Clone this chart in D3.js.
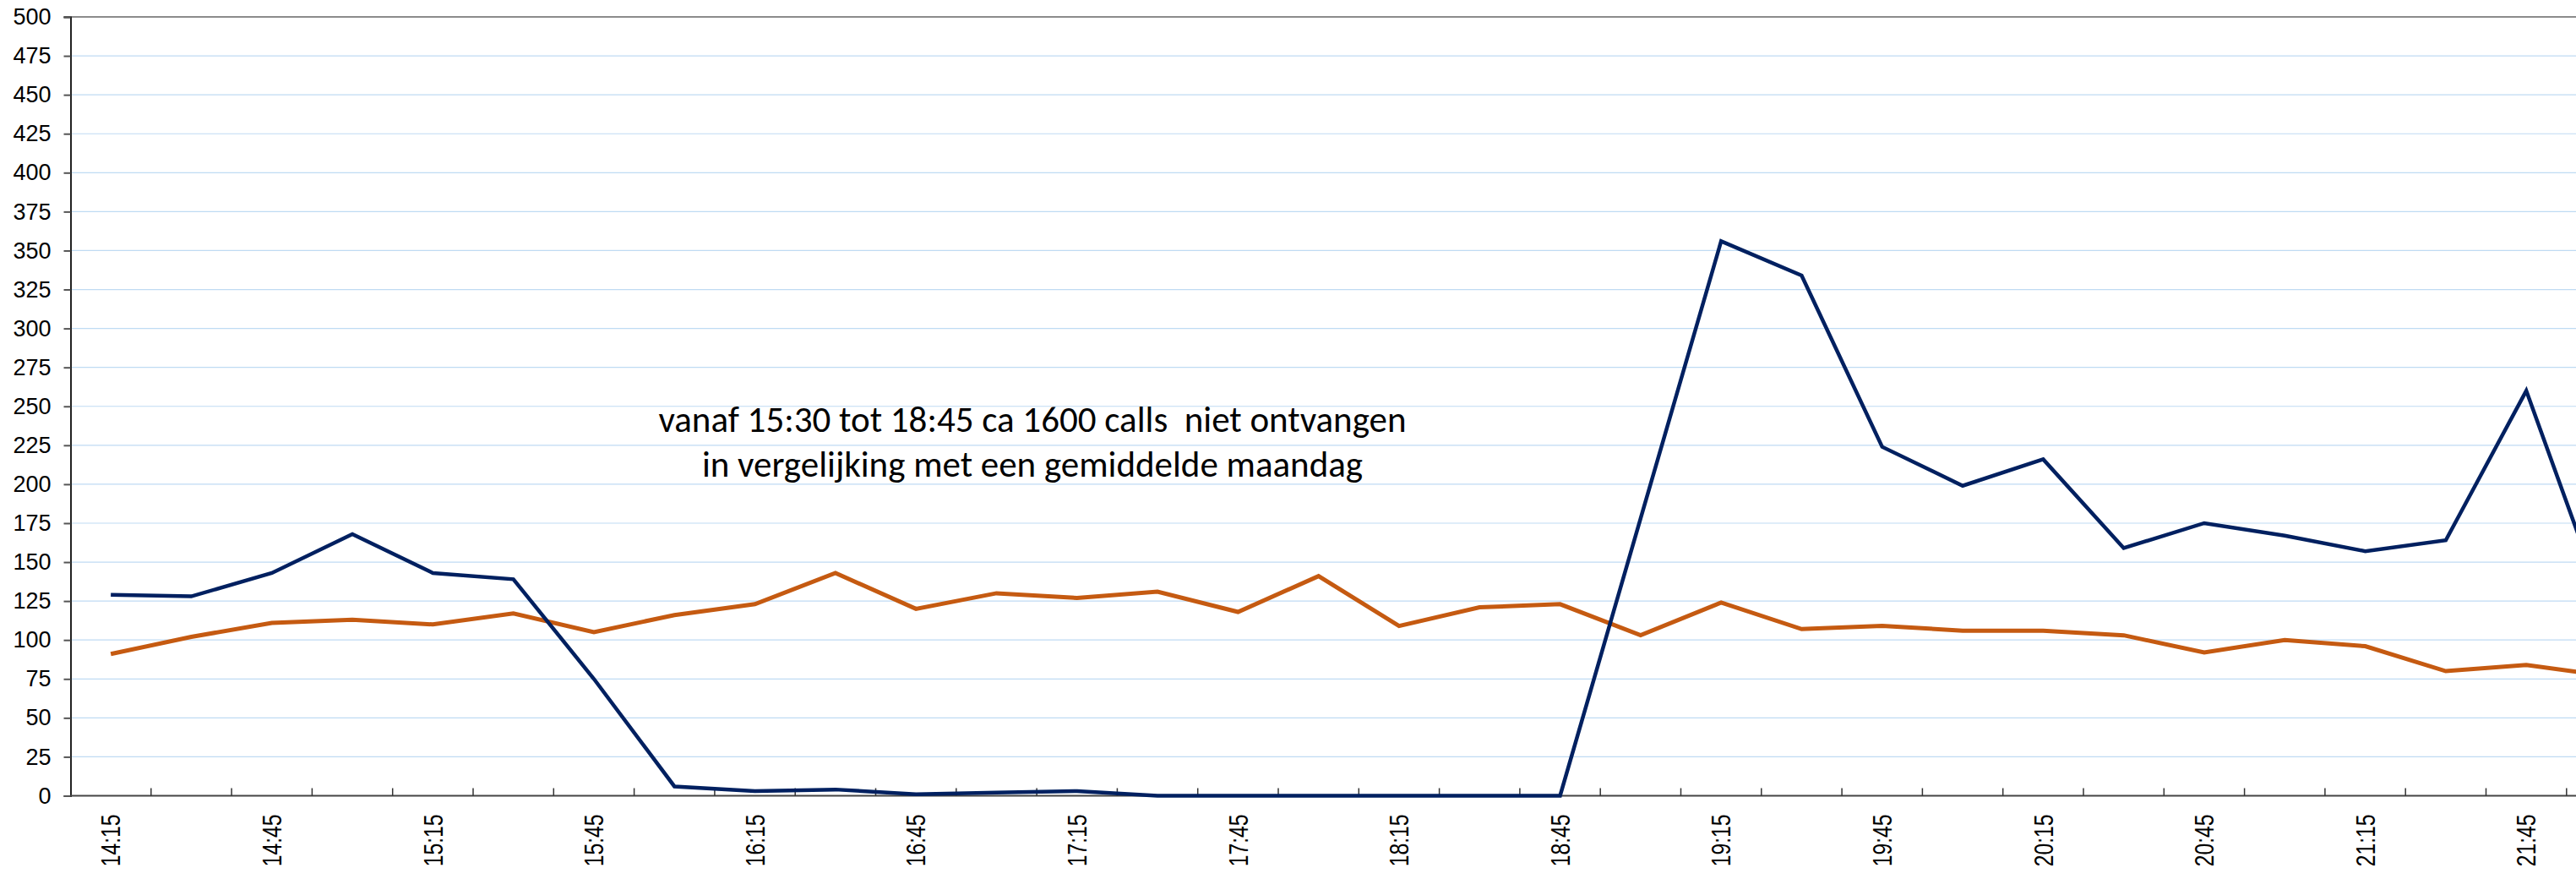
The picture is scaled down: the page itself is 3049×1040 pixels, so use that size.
<!DOCTYPE html>
<meta charset="utf-8">
<style>
	body { margin: 0; background: #fff; }
	svg { display: block; }
</style>
<body>
	<div id="chart"></div>
</body>
<script src="https://cdn.jsdelivr.net/npm/d3@7"></script>
<script>
	// time slots, every 15 minutes
	const times = ["14:15", "14:30", "14:45", "15:00", "15:15", "15:30", "15:45", "16:00",
		"16:15", "16:30", "16:45", "17:00", "17:15", "17:30", "17:45", "18:00",
		"18:15", "18:30", "18:45", "19:00", "19:15", "19:30", "19:45", "20:00",
		"20:15", "20:30", "20:45", "21:00", "21:15", "21:30", "21:45", "22:00"];

	// calls on the day itself
	const callsToday = [129, 128, 143, 168, 143, 139, 75, 6,
		3, 4, 1, 2, 3, 0, 0, 0,
		0, 0, 0, 178, 356, 334, 224, 199,
		216, 159, 175, 167, 157, 164, 260, 117];

	// average monday
	const callsAverage = [91, 102, 111, 113, 110, 117, 105, 116,
		123, 143, 120, 130, 127, 131, 118, 141,
		109, 121, 123, 103, 124, 107, 109, 106,
		106, 103, 92, 100, 96, 80, 84, 77];

	const yTicks = d3.range(0, 501, 25);

	const note = ["vanaf 15:30 tot 18:45 ca 1600 calls  niet ontvangen",
		"in vergelijking met een gemiddelde maandag"];

	const width = 3049,
	    height = 1040,
	    plotLeft = 83.5,
	    bandWidth = 95.3,
	    plotTop = 20,
	    plotBottom = 941.5;

	const svg = d3.select("#chart").append("svg")
	    .attr("width", width)
	    .attr("height", height);

	const x = d3.scaleBand()
	    .domain(times)
	    .range([plotLeft, plotLeft + bandWidth * times.length]);

	const y = d3.scaleLinear()
	    .domain([0, 500])
	    .range([plotBottom, plotTop]);

	// dotted grid lines
	svg.append("g")
	    .selectAll("line")
	    .data(yTicks.filter(d => d > 0 && d < 500))
	    .enter().append("line")
	        .attr("x1", plotLeft)
	        .attr("x2", width)
	        .attr("y1", d => y(d))
	        .attr("y2", d => y(d))
	        .style("stroke", "#7fb6e6")
	        .style("stroke-width", 1.2)
	        .style("stroke-dasharray", "1,1");

	// top border
	svg.append("line")
	    .attr("x1", plotLeft - 8)
	    .attr("x2", width)
	    .attr("y1", y(500))
	    .attr("y2", y(500))
	    .style("stroke", "#8c8c8c")
	    .style("stroke-width", 2);

	// y axis
	const yAxis = svg.append("g")
	    .attr("transform", "translate(" + plotLeft + ",0)")
	    .call(d3.axisLeft(y).tickValues(yTicks).tickSize(8).tickPadding(15));
	yAxis.select(".domain").style("stroke", "#222").style("stroke-width", 2);
	yAxis.selectAll(".tick line").style("stroke", "#555").style("stroke-width", 2);
	yAxis.selectAll("text")
	    .style("font-family", "'Liberation Sans', Arial, sans-serif")
	    .style("font-size", "27px")
	    .style("fill", "#000");

	// x axis line
	svg.append("line")
	    .attr("x1", plotLeft)
	    .attr("x2", width)
	    .attr("y1", plotBottom)
	    .attr("y2", plotBottom)
	    .style("stroke", "#444")
	    .style("stroke-width", 2);

	// ticks between slots, pointing inside
	svg.append("g")
	    .selectAll("line")
	    .data(times.slice(1))
	    .enter().append("line")
	        .attr("x1", d => x(d))
	        .attr("x2", d => x(d))
	        .attr("y1", plotBottom)
	        .attr("y2", plotBottom - 9)
	        .style("stroke", "#333")
	        .style("stroke-width", 1.5);

	// labels on every other slot, rotated and squeezed like a narrow font
	svg.append("g")
	    .selectAll("text")
	    .data(times.filter((d, i) => i % 2 === 0))
	    .enter().append("text")
	        .attr("transform", d => "translate(" + (x(d) + x.bandwidth() / 2) + "," + (plotBottom + 22) + ") rotate(-90) scale(0.77,1)")
	        .attr("dy", "0.35em")
	        .attr("text-anchor", "end")
	        .style("font-family", "'Liberation Sans', Arial, sans-serif")
	        .style("font-size", "32px")
	        .style("fill", "#000")
	        .text(d => d);

	const line = d3.line()
	    .x((d, i) => x(times[i]) + x.bandwidth() / 2)
	    .y(d => y(d));

	svg.append("path")
	    .datum(callsAverage)
	    .attr("d", line)
	    .style("fill", "none")
	    .style("stroke", "#c55a11")
	    .style("stroke-width", 5)
	    .style("stroke-linejoin", "miter");

	svg.append("path")
	    .datum(callsToday)
	    .attr("d", line)
	    .style("fill", "none")
	    .style("stroke", "#002060")
	    .style("stroke-width", 4.5)
	    .style("stroke-linejoin", "miter");

	// note in the middle of the chart
	svg.append("text")
	    .attr("text-anchor", "middle")
	    .attr("xml:space", "preserve")
	    .style("white-space", "pre")
	    .style("font-family", "Carlito, Calibri, 'Liberation Sans Narrow', sans-serif")
	    .style("font-size", "43px")
	    .style("fill", "#000")
	    .selectAll("tspan")
	    .data(note)
	    .enter().append("tspan")
	        .attr("x", 1222)
	        .attr("y", (d, i) => 511 + i * 53)
	        .text(d => d);
</script>
